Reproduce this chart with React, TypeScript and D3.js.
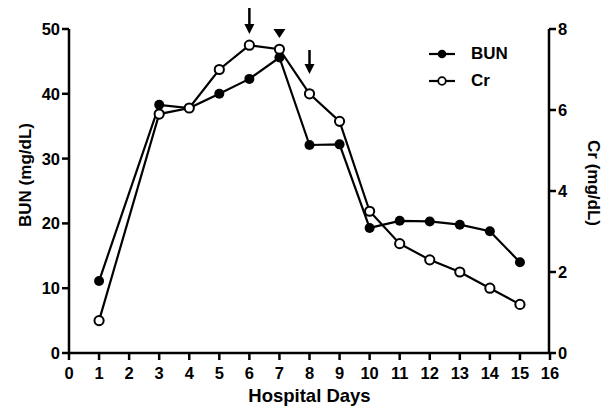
import React from "react";
import * as d3 from "d3";

const days = [1, 3, 4, 5, 6, 7, 8, 9, 10, 11, 12, 13, 14, 15];
const bun = [11.1, 38.3, 37.8, 40.0, 42.3, 45.6, 32.1, 32.2, 19.3, 20.4, 20.3, 19.8, 18.8, 14.0];
const cr = [0.8, 5.9, 6.05, 7.0, 7.6, 7.5, 6.4, 5.72, 3.5, 2.7, 2.3, 2.0, 1.6, 1.2];
const xTicks = d3.range(0, 17);
const leftTicks = [0, 10, 20, 30, 40, 50];
const rightTicks = [0, 2, 4, 6, 8];
const arrowDays = [6, 8];
const triangleDay = 7;

export default function App() {
  const W = 605, H = 411;
  const x = d3.scaleLinear().domain([0, 16]).range([69, 550]);
  const yL = d3.scaleLinear().domain([0, 50]).range([353, 29]);
  const yR = d3.scaleLinear().domain([0, 8]).range([353, 29]);
  const font = "'Liberation Sans', Arial, sans-serif";
  const lineB = d3.line<number>().x((_, i) => x(days[i])).y((d) => yL(d));
  const lineC = d3.line<number>().x((_, i) => x(days[i])).y((d) => yR(d));
  const sw = 2.2;
  return (
    <svg width={W} height={H} style={{ position: "absolute", left: 0, top: 0 }} fontFamily={font} fontWeight="bold">
      <rect width={W} height={H} fill="#fff" />
      {/* left axis */}
      <line x1={69} x2={69} y1={yL(50)} y2={yL(0) + 1} stroke="#000" strokeWidth={2.5} />
      {leftTicks.map((t) => (
        <g key={"l" + t}>
          <line x1={62} x2={69} y1={yL(t)} y2={yL(t)} stroke="#000" strokeWidth={2.5} />
          <text x={60} y={yL(t) + 6} textAnchor="end" fontSize={16.5}>{t}</text>
        </g>
      ))}
      {/* right axis */}
      <line x1={549} x2={549} y1={yR(8)} y2={yR(0) + 1} stroke="#000" strokeWidth={2.5} />
      {rightTicks.map((t) => (
        <g key={"r" + t}>
          <line x1={549} x2={556} y1={yR(t)} y2={yR(t)} stroke="#000" strokeWidth={2.5} />
          <text x={558} y={yR(t) + 6} textAnchor="start" fontSize={16.5}>{t}</text>
        </g>
      ))}
      {/* bottom axis */}
      <line x1={68} x2={550} y1={353} y2={353} stroke="#000" strokeWidth={2.5} />
      {xTicks.map((t) => (
        <g key={"x" + t}>
          <line x1={x(t)} x2={x(t)} y1={353} y2={360} stroke="#000" strokeWidth={2.5} />
          <text x={x(t)} y={379} textAnchor="middle" fontSize={16.5}>{t}</text>
        </g>
      ))}
      <text x={x(8)} y={402} textAnchor="middle" fontSize={18.5}>Hospital Days</text>
      <text transform={`translate(31,175) rotate(-90)`} textAnchor="middle" fontSize={17}>BUN (mg/dL)</text>
      <text transform={`translate(588,183) rotate(90)`} textAnchor="middle" fontSize={17}>Cr (mg/dL)</text>
      {/* lines */}
      <path d={lineB(bun) || ""} fill="none" stroke="#000" strokeWidth={sw} />
      <path d={lineC(cr) || ""} fill="none" stroke="#000" strokeWidth={sw} />
      {bun.map((v, i) => (
        <circle key={"b" + i} cx={x(days[i])} cy={yL(v)} r={5} fill="#000" />
      ))}
      {cr.map((v, i) => (
        <circle key={"c" + i} cx={x(days[i])} cy={yR(v)} r={4.6} fill="#fff" stroke="#000" strokeWidth={2} />
      ))}
      {/* annotations */}
      {arrowDays.map((d, i) => {
        const cx = x(d);
        const top = i === 0 ? 8 : 50;
        const bot = i === 0 ? 34 : 74;
        return (
          <g key={"a" + d}>
            <line x1={cx} x2={cx} y1={top} y2={bot - 8} stroke="#000" strokeWidth={2.5} />
            <path d={`M${cx - 5},${bot - 10} L${cx + 5},${bot - 10} L${cx},${bot} Z`} fill="#000" />
          </g>
        );
      })}
      <path d={`M${x(triangleDay) - 6},${29} L${x(triangleDay) + 6},${29} L${x(triangleDay)},${38} Z`} fill="#000" />
      {/* legend */}
      <line x1={429} x2={455} y1={54} y2={54} stroke="#000" strokeWidth={2.2} />
      <circle cx={442} cy={54} r={4.3} fill="#000" />
      <text x={471} y={59} fontSize={17}>BUN</text>
      <line x1={429} x2={455} y1={81} y2={81} stroke="#000" strokeWidth={2.2} />
      <circle cx={442} cy={81} r={3.8} fill="#fff" stroke="#000" strokeWidth={1.8} />
      <text x={471} y={86} fontSize={17}>Cr</text>
    </svg>
  );
}
